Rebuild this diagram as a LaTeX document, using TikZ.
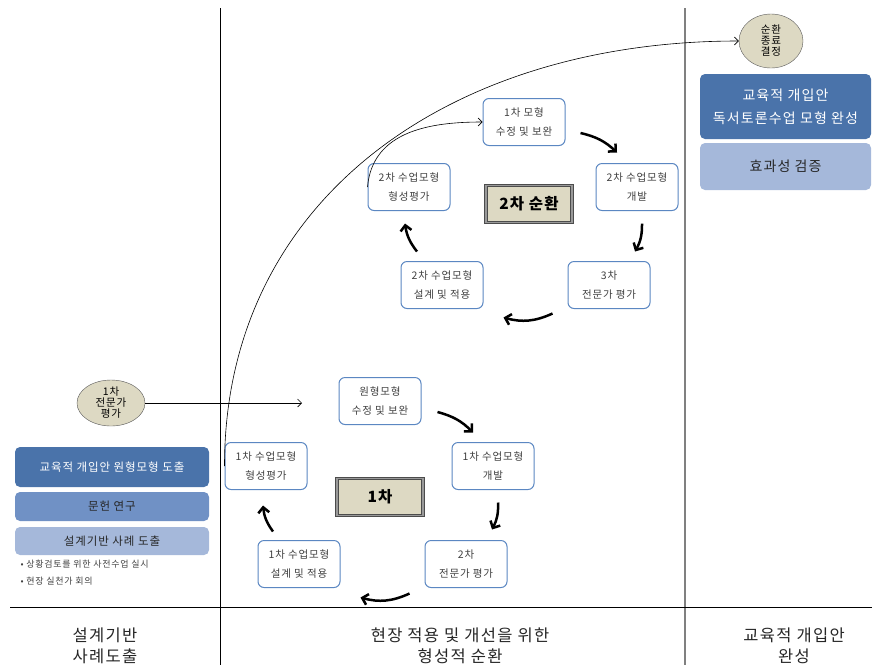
\documentclass[tikz,border=0pt]{standalone}
\usepackage{fontspec}
\setmainfont{Noto Sans CJK KR}[LetterSpace=8]
\usetikzlibrary{arrows.meta,shapes.geometric}

\definecolor{boxline}{HTML}{5B87C2}
\definecolor{boxtext}{HTML}{404040}
\definecolor{darkblue}{HTML}{4A73AA}
\definecolor{midblue}{HTML}{7091C5}
\definecolor{lightblue}{HTML}{A5B8DA}
\definecolor{khaki}{HTML}{DDD9C3}

\tikzset{
  cycbox/.style={rectangle, rounded corners=6pt, draw=boxline, line width=1pt, fill=white,
    text=boxtext, minimum width=82pt, minimum height=47pt, inner sep=0pt, align=center,
    font=\fontsize{10.5}{19}\selectfont},
  roundlabel/.style={ellipse, draw=black!65, fill=khaki, inner sep=0pt, align=center,
    font=\fontsize{10.5}{11}\selectfont},
  cyclabel/.style={rectangle, fill=khaki, draw=black!70, double=black!40, double distance=1.5pt,
    line width=0.8pt, minimum width=86pt, minimum height=37pt, font=\fontsize{15.5}{16}\selectfont\bfseries},
  band/.style={rectangle, rounded corners=5pt, inner sep=0pt, align=center},
  flow/.style={line width=2.5pt, -{Straight Barb[length=5.5pt,width=11pt]}},
  thinarrow/.style={line width=0.6pt, -{Straight Barb[length=4pt,width=8pt]}},
  steplabel/.style={align=center, text=black!85, font=\fontsize{16.5}{20.5}\selectfont},
}

\begin{document}
\begin{tikzpicture}[x=1pt, y=-1pt]
      \useasboundingbox (0,0) rectangle (872,665);

      % frame
      \draw[line width=0.8pt] (220,8) -- (220,665);
      \draw[line width=1.5pt, black!50] (685,8) -- (685,665);
      \draw[line width=0.8pt] (10,607) -- (872,607);

      \node[steplabel, name=s1] at (105,646) {설계기반\\사례도출};
      \node[steplabel, name=s2] at (460,646) {현장 적용 및 개선을 위한\\형성적 순환};
      \node[steplabel, name=s3] at (794,646) {교육적 개입안\\완성};

      % left column
      \node[roundlabel, minimum width=68pt, minimum height=46pt, name=e1] at (111,403) {1차\\전문가\\평가};
      \node[band, fill=darkblue, text=white, minimum width=194pt, minimum height=40pt,
            font=\fontsize{11.5}{12}\selectfont, name=l1] at (112,467) {교육적 개입안 원형모형 도출};
      \node[band, fill=midblue, text=black!85, minimum width=194pt, minimum height=29pt,
            font=\fontsize{11.5}{12}\selectfont, name=l2] at (112,506.5) {문헌 연구};
      \node[band, fill=lightblue, text=black!85, minimum width=194pt, minimum height=28pt,
            font=\fontsize{11.5}{12}\selectfont, name=l3] at (112,541) {설계기반 사례 도출};
      \node[anchor=west, text=boxtext, font=\fontsize{9}{9}\selectfont, name=b1] at (17,564) {• 상황검토를 위한 사전수업 실시};
      \node[anchor=west, text=boxtext, font=\fontsize{9}{9}\selectfont, name=b2] at (17,581) {• 현장 실천가 회의};

      % right column
      \node[roundlabel, minimum width=64pt, minimum height=54pt, name=e2] at (771,41) {순환\\종료\\결정};
      \node[band, fill=darkblue, text=white, minimum width=171pt, minimum height=65pt,
            font=\fontsize{14}{23}\selectfont, name=r1] at (785.5,106.5) {교육적 개입안\\독서토론수업 모형 완성};
      \node[band, fill=lightblue, text=black!85, minimum width=171pt, minimum height=47pt,
            font=\fontsize{14}{14}\selectfont, name=r2] at (785.5,166.5) {효과성 검증};

      % first cycle
      \node[cycbox, name=rev1] at (380,401) {원형모형\\수정 및 보완};
      \node[cycbox, name=dev1] at (493,466) {1차 수업모형\\개발};
      \node[cycbox, name=eval1] at (466,564) {2차\\전문가 평가};
      \node[cycbox, name=apply1] at (299,564) {1차 수업모형\\설계 및 적용};
      \node[cycbox, name=form1] at (266,466) {1차 수업모형\\형성평가};
      \node[cyclabel, name=lab1] at (380,497) {1차};

      % second cycle
      \node[cycbox, name=rev2] at (524,122) {1차 모형\\수정 및 보완};
      \node[cycbox, name=dev2] at (637,187) {2차 수업모형\\개발};
      \node[cycbox, name=eval2] at (609,285) {3차\\전문가 평가};
      \node[cycbox, name=apply2] at (442,285) {2차 수업모형\\설계 및 적용};
      \node[cycbox, name=form2] at (409,187) {2차 수업모형\\형성평가};
      \node[cyclabel, name=lab2] at (529,204) {2차 순환};

      \path[flow]
         ([shift={(16,11)}]rev1.east) edge[bend left=15] ([shift={(-20,-9.5)}]dev1.north)
         ([shift={(5,12.5)}]dev1.south) edge[bend left=15] ([shift={(26,-10.5)}]eval1.north)
         ([shift={(-15,5.5)}]eval1.south west) edge[bend left=20] ([shift={(20,9.5)}]apply1.south east)
         ([shift={(-26,-8.5)}]apply1.north) edge[bend left=15] ([shift={(-3,15.5)}]form1.south)
         ([shift={(15,11)}]rev2.east) edge[bend left=15] ([shift={(-20,-10.5)}]dev2.north)
         ([shift={(5,12.5)}]dev2.south) edge[bend left=15] ([shift={(26,-9.5)}]eval2.north)
         ([shift={(-15,4.5)}]eval2.south west) edge[bend left=20] ([shift={(20,8.5)}]apply2.south east)
         ([shift={(-25,-9.5)}]apply2.north) edge[bend left=15] ([shift={(-4,12.5)}]form2.south);

      \coordinate (in1) at (302,403);
      \path[thinarrow] (e1) edge (in1);
      \draw[thinarrow] (form1.west) .. controls +(0,-266) and +(-290,0) .. (e2.west);
      \draw[thinarrow] (form2.west) .. controls +(5,-57) and +(-50,0) .. (rev2.west);
   \end{tikzpicture}
\end{document}
